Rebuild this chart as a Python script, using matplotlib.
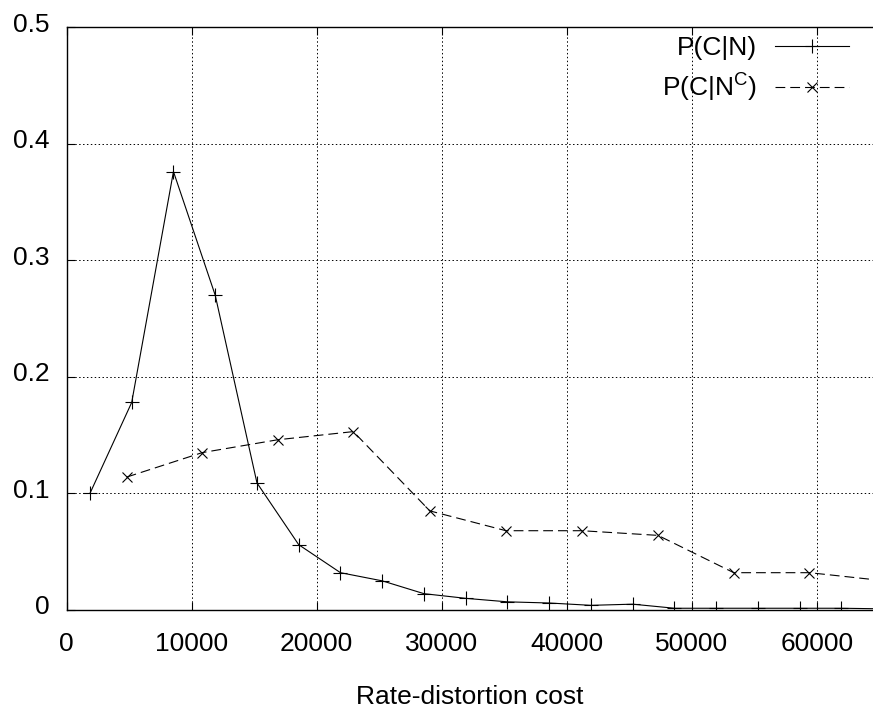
import matplotlib
matplotlib.use("Agg")
import matplotlib.pyplot as plt
from matplotlib.transforms import ScaledTranslation

plt.rcParams['font.family'] = ['Liberation Sans', 'DejaVu Sans']
plt.rcParams['mathtext.fontset'] = 'custom'
plt.rcParams['mathtext.rm'] = 'Liberation Sans'
plt.rcParams['mathtext.it'] = 'Liberation Sans'

# data
x_n = [1860, 5200, 8540, 11880, 15220, 18560, 21900, 25240, 28580, 31920,
       35260, 38600, 41940, 45280, 48620, 51960, 55300, 58640, 61980, 65320]
y_n = [0.100, 0.178, 0.376, 0.270, 0.109, 0.056, 0.032, 0.025, 0.014, 0.010,
       0.007, 0.006, 0.004, 0.005, 0.0015, 0.0015, 0.0015, 0.0015, 0.0015, 0.001]

x_nc = [4800, 10850, 16880, 22930, 29050, 35140, 41200, 47300, 53360, 59420, 65480]
y_nc = [0.114, 0.135, 0.146, 0.153, 0.085, 0.068, 0.068, 0.064, 0.032, 0.032, 0.025]

xticks = [0, 10000, 20000, 30000, 40000, 50000, 60000]
yticks = [0, 0.1, 0.2, 0.3, 0.4, 0.5]
ytick_labels = ['0', '0.1', '0.2', '0.3', '0.4', '0.5']

W, H = 873, 708
fig = plt.figure(figsize=(W / 100, H / 100), dpi=100)
ax = fig.add_axes([66.7 / W, 98 / H, 1 - 66.7 / W, 583 / H])

fs = 19
ax.plot(x_n, y_n, color='black', lw=0.8, marker='+', markersize=9.5,
        markeredgewidth=0.8, label='P(C|N)')
ax.plot(x_nc, y_nc, color='black', lw=0.8, marker='x', markersize=7,
        markeredgewidth=0.8, dashes=(8.8, 4.5), label=r'P(C|N$^{\mathrm{C}}$)')

ax.set_xlim(0, 64500)
ax.set_ylim(0, 0.5)
ax.set_xticks(xticks)
ax.set_xticklabels([str(v) for v in xticks])
ax.set_yticks(yticks)
ax.set_yticklabels(ytick_labels)

ax.grid(True, color='black', lw=0.7, linestyle=(0, (1.5, 2.5)))
ax.tick_params(direction='in', length=6, width=0.8, labelsize=fs,
               top=True, right=False)
ax.tick_params(axis='y', pad=12.3)
ax.tick_params(axis='x', pad=15.5)
for s in ['left', 'bottom', 'top']:
    ax.spines[s].set_linewidth(1.0)
ax.spines['right'].set_visible(False)

# gnuplot-style: y tick labels sit slightly above their ticks
shift = ScaledTranslation(0, 5 / 100, fig.dpi_scale_trans)
for lab in ax.get_yticklabels():
    lab.set_transform(lab.get_transform() + shift)

ax.set_xlabel('Rate-distortion cost', fontsize=fs, labelpad=21)

leg = ax.legend(loc='upper right', bbox_to_anchor=(849 / W, (H - 36) / H),
                bbox_transform=fig.transFigure, frameon=False, fontsize=fs,
                markerfirst=False, handlelength=2.8, handletextpad=0.68,
                labelspacing=0.45, borderpad=0, borderaxespad=0)

fig.savefig('out.png', dpi=100)
